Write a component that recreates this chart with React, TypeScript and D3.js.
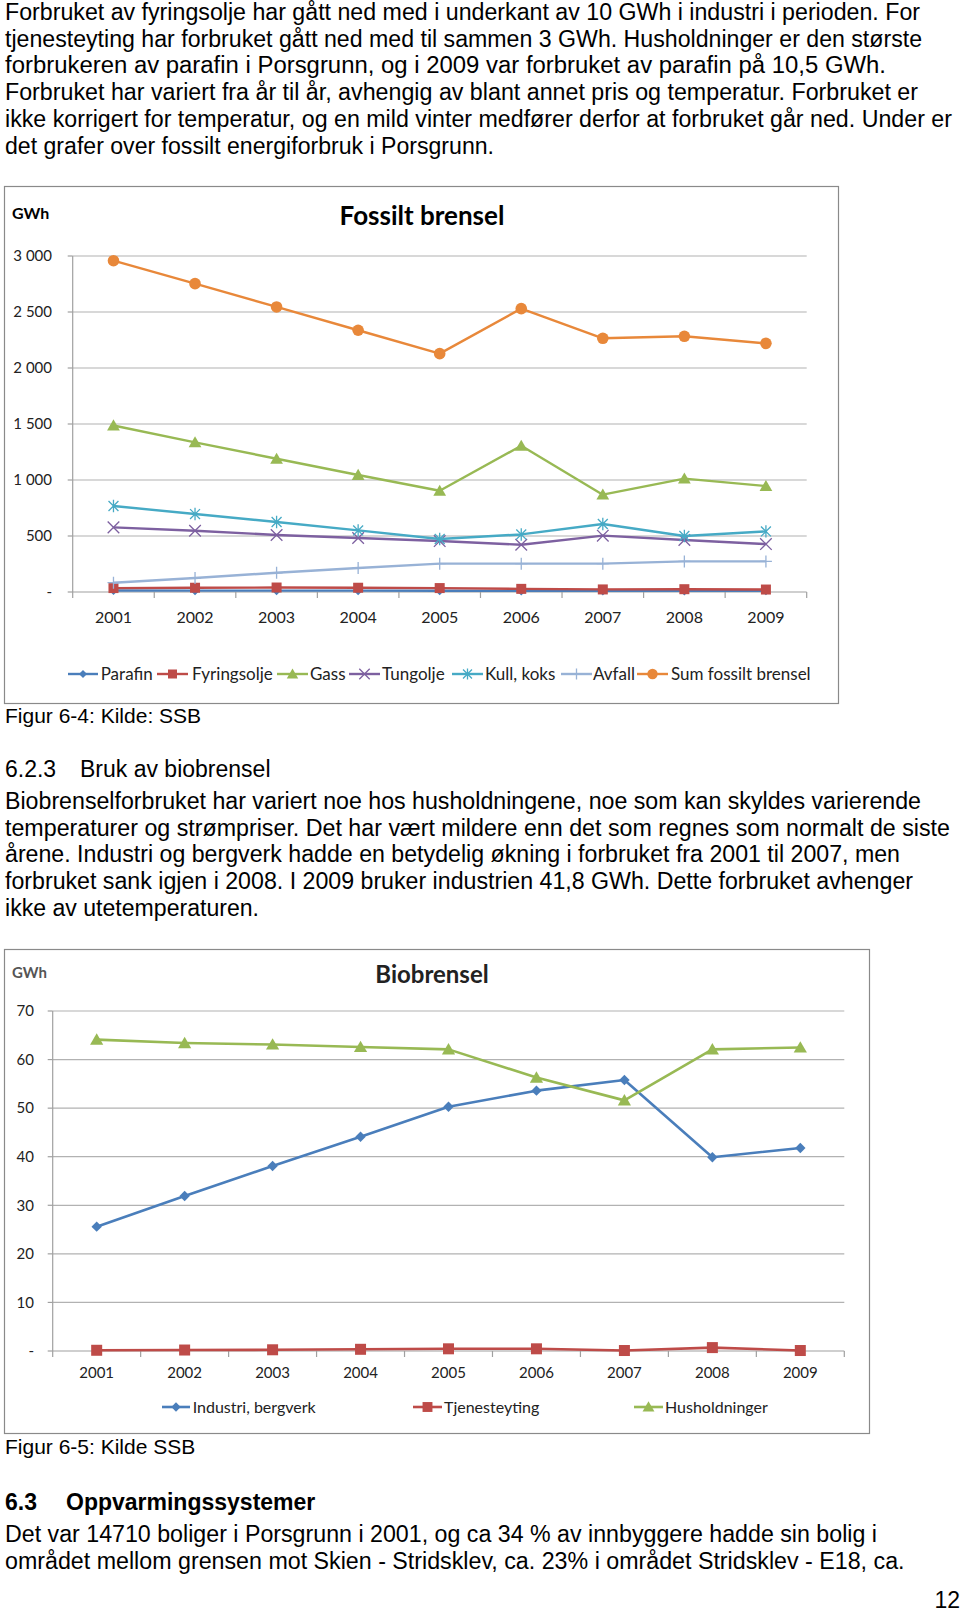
import React from 'react';
import * as d3 from 'd3';

// ---------- data ----------
const years = ['2001', '2002', '2003', '2004', '2005', '2006', '2007', '2008', '2009'];

const parafin = [13, 12, 12, 12, 11, 10, 10, 10, 10.5];
const fyringsolje = [35, 38, 40, 38, 35, 28, 23, 25, 22];
const gass = [1487, 1336, 1190, 1045, 904, 1306, 869, 1012, 946];
const tungolje = [577, 547, 509, 482, 455, 422, 503, 464, 428];
const kullKoks = [768, 696, 625, 550, 473, 514, 607, 500, 541];
const avfall = [83, 125, 172, 214, 253, 253, 253, 273, 273];
const sumFossilt = [2958, 2753, 2545, 2337, 2128, 2530, 2265, 2283, 2220];

const fossilTickValues = [0, 500, 1000, 1500, 2000, 2500, 3000];
const fossilTickLabels = ['-', '500', '1 000', '1 500', '2 000', '2 500', '3 000'];

const industri = [25.6, 31.9, 38.1, 44.1, 50.3, 53.6, 55.8, 39.9, 41.8];
const tjenesteyting = [0.15, 0.2, 0.25, 0.35, 0.45, 0.45, 0.1, 0.7, 0.1];
const husholdninger = [64.1, 63.4, 63.1, 62.6, 62.1, 56.3, 51.6, 62.1, 62.5];

const bioTickValues = [0, 10, 20, 30, 40, 50, 60, 70];
const bioTickLabels = ['-', '10', '20', '30', '40', '50', '60', '70'];

const topLines = [
  'Forbruket av fyringsolje har gått ned med i underkant av 10 GWh i industri i perioden. For',
  'tjenesteyting har forbruket gått ned med til sammen 3 GWh. Husholdninger er den største',
  'forbrukeren av parafin i Porsgrunn, og i 2009 var forbruket av parafin på 10,5 GWh.',
  'Forbruket har variert fra år til år, avhengig av blant annet pris og temperatur. Forbruket er',
  'ikke korrigert for temperatur, og en mild vinter medfører derfor at forbruket går ned. Under er',
  'det grafer over fossilt energiforbruk i Porsgrunn.',
];
const topEnds = [920, 922, 886, 918, 952, 494];
const bioLines = [
  'Biobrenselforbruket har variert noe hos husholdningene, noe som kan skyldes varierende',
  'temperaturer og strømpriser. Det har vært mildere enn det som regnes som normalt de siste',
  'årene. Industri og bergverk hadde en betydelig økning i forbruket fra 2001 til 2007, men',
  'forbruket sank igjen i 2008. I 2009 bruker industrien 41,8 GWh. Dette forbruket avhenger',
  'ikke av utetemperaturen.',
];
const bioEnds = [921, 950, 900, 913, 259];
const bottomLines = [
  'Det var 14710 boliger i Porsgrunn i 2001, og ca 34 % av innbyggere hadde sin bolig i',
  'området mellom grensen mot Skien - Stridsklev, ca. 23% i området Stridsklev - E18, ca.',
];
const bottomEnds = [877, 904.5];

// ---------- helpers ----------
type Kind = 'diamond' | 'square' | 'triangle' | 'x' | 'star' | 'plus' | 'circle';

function Marker({ kind, x, y, s, color }: { kind: Kind; x: number; y: number; s: number; color: string }) {
  switch (kind) {
    case 'diamond':
      return <path d={`M${x},${y - s}L${x + s},${y}L${x},${y + s}L${x - s},${y}Z`} fill={color} />;
    case 'square':
      return <rect x={x - s} y={y - s} width={2 * s} height={2 * s} fill={color} />;
    case 'triangle':
      return <path d={`M${x},${y - s * 1.05}L${x + s * 1.1},${y + s * 0.85}L${x - s * 1.1},${y + s * 0.85}Z`} fill={color} />;
    case 'circle':
      return <circle cx={x} cy={y} r={s} fill={color} />;
    case 'x':
      return <path d={`M${x - s},${y - s}L${x + s},${y + s}M${x - s},${y + s}L${x + s},${y - s}`} stroke={color} strokeWidth={1.3} fill="none" />;
    case 'star':
      return <path d={`M${x - s * 0.8},${y - s * 0.8}L${x + s * 0.8},${y + s * 0.8}M${x - s * 0.8},${y + s * 0.8}L${x + s * 0.8},${y - s * 0.8}M${x},${y - s}L${x},${y + s}`} stroke={color} strokeWidth={1.3} fill="none" />;
    case 'plus':
      return <path d={`M${x},${y - s}L${x},${y + s}M${x - s},${y}L${x + s},${y}`} stroke={color} strokeWidth={1.3} fill="none" />;
  }
  return null;
}

type Series = { name: string; values: number[]; color: string; kind: Kind; size: number; width: number };

type ChartProps = {
  box: [number, number, number, number];
  plotX: [number, number];
  plotY: [number, number];
  domainMax: number;
  tickValues: number[];
  tickLabels: string[];
  tickRight: number;
  tickFont: number;
  xLabelY: number;
  xFont: number;
  title: string;
  titleX: number;
  titleY: number;
  titleSize: number;
  titleColor: string;
  unitY: number;
  unitColor: string;
  unitSize: number;
  series: Series[];
  legendY: number;
  legendLine: [number, number][];
  legendText: number[];
  legendFont: number;
};

const chartFont = 'Lato, "Open Sans", sans-serif';

function LineChart(p: ChartProps) {
  const x = d3.scaleBand<string>().domain(years).range(p.plotX);
  const y = d3.scaleLinear().domain([0, p.domainMax]).range(p.plotY);
  const cx = (yr: string) => (x(yr) as number) + x.bandwidth() / 2;
  const line = d3
    .line<number>()
    .x((_, i) => cx(years[i]))
    .y((d) => y(d));
  const [bx0, by0, bx1, by1] = p.box;
  const boundaries = years.map((yr) => x(yr) as number).concat([p.plotX[1]]);
  return (
    <g>
      <rect x={bx0 + 0.5} y={by0 + 0.5} width={bx1 - bx0} height={by1 - by0} fill="#fff" stroke="#8a8a8a" strokeWidth={1.2} />
      <text x={p.titleX} y={p.titleY} textAnchor="middle" fontFamily={chartFont} fontWeight={700} fontSize={p.titleSize} fill={p.titleColor}>
        {p.title}
      </text>
      <text x={12} y={p.unitY} fontFamily={chartFont} fontWeight={700} fontSize={p.unitSize} fill={p.unitColor}>
        GWh
      </text>
      {/* gridlines */}
      {p.tickValues.map((v, i) => (
        <g key={v}>
          {i > 0 && <line x1={p.plotX[0]} x2={p.plotX[1]} y1={y(v)} y2={y(v)} stroke="#b2b2b2" strokeWidth={1.2} />}
          <line x1={p.plotX[0] - 5} x2={p.plotX[0]} y1={y(v)} y2={y(v)} stroke="#a0a0a0" strokeWidth={1.2} />
          <text x={p.tickRight} y={y(v)} dy="0.35em" textAnchor="end" fontFamily={chartFont} fontSize={p.tickFont} fill="#222">
            {p.tickLabels[i]}
          </text>
        </g>
      ))}
      {/* axes */}
      <line x1={p.plotX[0]} x2={p.plotX[0]} y1={p.plotY[1]} y2={p.plotY[0]} stroke="#a0a0a0" strokeWidth={1.2} />
      <line x1={p.plotX[0]} x2={p.plotX[1]} y1={p.plotY[0]} y2={p.plotY[0]} stroke="#a0a0a0" strokeWidth={1.2} />
      {boundaries.map((bx, i) => (
        <line key={i} x1={bx} x2={bx} y1={p.plotY[0]} y2={p.plotY[0] + 6} stroke="#a0a0a0" strokeWidth={1.2} />
      ))}
      {years.map((yr) => (
        <text key={yr} x={cx(yr)} y={p.xLabelY} dy="0.35em" textAnchor="middle" fontFamily={chartFont} fontSize={p.xFont} fill="#222">
          {yr}
        </text>
      ))}
      {/* series */}
      {p.series.map((s) => (
        <g key={s.name}>
          <path d={line(s.values) as string} fill="none" stroke={s.color} strokeWidth={s.width} strokeLinejoin="round" />
          {s.values.map((v, i) => (
            <Marker key={i} kind={s.kind} x={cx(years[i])} y={y(v)} s={s.size} color={s.color} />
          ))}
        </g>
      ))}
      {/* legend */}
      {p.series.map((s, i) => {
        const [l0, l1] = p.legendLine[i];
        return (
          <g key={s.name}>
            <line x1={l0} x2={l1} y1={p.legendY} y2={p.legendY} stroke={s.color} strokeWidth={s.width} />
            <Marker kind={s.kind} x={(l0 + l1) / 2} y={p.legendY} s={s.size * 0.9} color={s.color} />
            <text x={p.legendText[i]} y={p.legendY} dy="0.35em" fontFamily={chartFont} fontSize={p.legendFont} fill="#222">
              {s.name}
            </text>
          </g>
        );
      })}
    </g>
  );
}

const fossilSeries: Series[] = [
  { name: 'Parafin', values: parafin, color: '#4A7EBB', kind: 'diamond', size: 4.5, width: 2.4 },
  { name: 'Fyringsolje', values: fyringsolje, color: '#BE4B48', kind: 'square', size: 5, width: 2.4 },
  { name: 'Gass', values: gass, color: '#98B954', kind: 'triangle', size: 5.8, width: 2.4 },
  { name: 'Tungolje', values: tungolje, color: '#7D60A0', kind: 'x', size: 5.8, width: 2.4 },
  { name: 'Kull, koks', values: kullKoks, color: '#46AAC5', kind: 'star', size: 6.2, width: 2.4 },
  { name: 'Avfall', values: avfall, color: '#98B2D6', kind: 'plus', size: 6, width: 2.4 },
  { name: 'Sum fossilt brensel', values: sumFossilt, color: '#E8883A', kind: 'circle', size: 5.8, width: 2.4 },
];

const bioSeries: Series[] = [
  { name: 'Industri, bergverk', values: industri, color: '#4A7EBB', kind: 'diamond', size: 5.2, width: 2.6 },
  { name: 'Tjenesteyting', values: tjenesteyting, color: '#BE4B48', kind: 'square', size: 5.5, width: 2.6 },
  { name: 'Husholdninger', values: husholdninger, color: '#98B954', kind: 'triangle', size: 6, width: 2.6 },
];

const bodyFont = '"Liberation Sans", Arial, Helvetica, sans-serif';

export default function App() {
  return (
    <svg
      width={960}
      height={1612}
      viewBox="0 0 960 1612"
      style={{ position: 'absolute', left: 0, top: 0, display: 'block', background: '#fff' }}
    >
      <rect x={0} y={0} width={960} height={1612} fill="#fff" />
      <g fontFamily={bodyFont} fontSize={23} fill="#000">
        {topLines.map((t, i) => (
          <text key={i} x={5} y={20 + i * 26.7} textLength={topEnds[i] - 5} lengthAdjust="spacingAndGlyphs">
            {t}
          </text>
        ))}
      </g>

      <LineChart
        box={[4, 186, 838, 703]}
        plotX={[72.7, 806.7]}
        plotY={[592, 256]}
        domainMax={3000}
        tickValues={fossilTickValues}
        tickLabels={fossilTickLabels}
        tickRight={52}
        tickFont={15}
        xLabelY={617}
        xFont={16}
        title="Fossilt brensel"
        titleX={422}
        titleY={225}
        titleSize={26}
        titleColor="#000"
        unitY={218.5}
        unitColor="#000"
        unitSize={16}
        series={fossilSeries}
        legendY={674}
        legendLine={[[68, 98], [157, 188], [277, 308], [349, 380], [452, 483], [561, 592], [637, 668]]}
        legendText={[100.7, 192, 310, 382, 485, 593, 671]}
        legendFont={17}
      />

      <g fontFamily={bodyFont} fontSize={23} fill="#000">
        <text x={5} y={723} fontSize={21}>Figur 6-4: Kilde: SSB</text>
        <text x={5} y={777}>6.2.3</text>
        <text x={80} y={777}>Bruk av biobrensel</text>
        {bioLines.map((t, i) => (
          <text key={i} x={5} y={809 + i * 26.7} textLength={bioEnds[i] - 5} lengthAdjust="spacingAndGlyphs">
            {t}
          </text>
        ))}
      </g>

      <LineChart
        box={[4, 949, 869, 1433]}
        plotX={[52.7, 844.3]}
        plotY={[1351, 1011]}
        domainMax={70}
        tickValues={bioTickValues}
        tickLabels={bioTickLabels}
        tickRight={34}
        tickFont={15}
        xLabelY={1373}
        xFont={15}
        title="Biobrensel"
        titleX={432}
        titleY={983}
        titleSize={24}
        titleColor="#222"
        unitY={978}
        unitColor="#555"
        unitSize={15}
        series={bioSeries}
        legendY={1407}
        legendLine={[[162, 190], [413, 442], [634, 663]]}
        legendText={[192.7, 444, 665]}
        legendFont={16}
      />

      <g fontFamily={bodyFont} fontSize={23} fill="#000">
        <text x={5} y={1454} fontSize={21}>Figur 6-5: Kilde SSB</text>
        <text x={5} y={1510} fontWeight={700}>6.3</text>
        <text x={66} y={1510} fontWeight={700}>Oppvarmingssystemer</text>
        {bottomLines.map((t, i) => (
          <text key={i} x={5} y={1542 + i * 26.7} textLength={bottomEnds[i] - 5} lengthAdjust="spacingAndGlyphs">
            {t}
          </text>
        ))}
        <text x={960} y={1608} textAnchor="end">12</text>
      </g>
    </svg>
  );
}
